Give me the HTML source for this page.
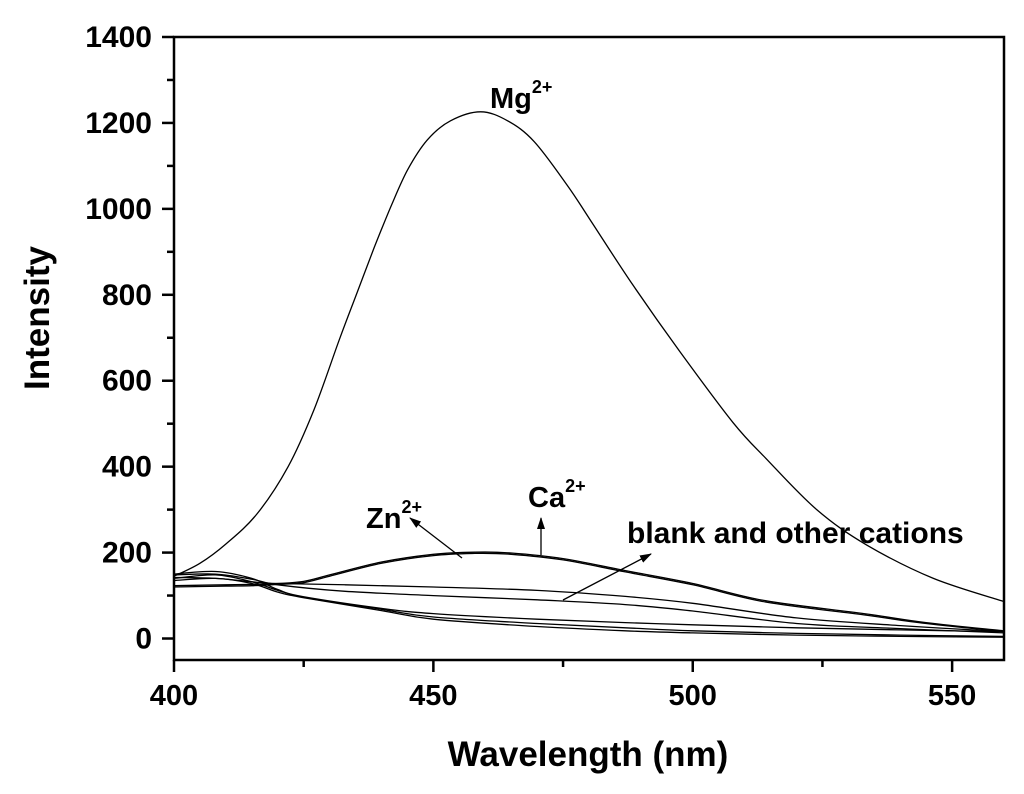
<!DOCTYPE html>
<html><head><meta charset="utf-8"><style>
body{margin:0;background:#fff}
svg{position:absolute;left:0;top:0}
svg text{font-family:"Liberation Sans",Arial,sans-serif;font-weight:bold;fill:#000}
</style></head><body>
<svg id="chart" width="1024" height="794" xmlns="http://www.w3.org/2000/svg">
<defs><marker id="ah2" markerWidth="12" markerHeight="8" refX="11" refY="4" orient="auto" markerUnits="userSpaceOnUse"><path d="M0,0 L12,4 L0,8 z" fill="#000"/></marker></defs>
<g id="plot"></g>
<text transform="translate(49,318) rotate(-90)" text-anchor="middle" font-size="35">Intensity</text>
<text x="588" y="766" text-anchor="middle" font-size="35">Wavelength (nm)</text>
<text x="490" y="108" font-size="29">Mg<tspan dy="-15" font-size="18">2+</tspan></text>
<text x="366" y="528" font-size="29">Zn<tspan dy="-15" font-size="18">2+</tspan></text>
<text x="528" y="507" font-size="29">Ca<tspan dy="-15" font-size="18">2+</tspan></text>
<text x="627" y="543" font-size="30">blank and other cations</text>
<line x1="462" y1="558" x2="410" y2="518" stroke="#000" stroke-width="1.3" marker-end="url(#ah2)"/>
<line x1="541" y1="555" x2="541" y2="518" stroke="#000" stroke-width="1.3" marker-end="url(#ah2)"/>
<line x1="563" y1="600" x2="651" y2="554" stroke="#000" stroke-width="1.3" marker-end="url(#ah2)"/>
</svg>
<script>
const xTicks=[400,450,500,550];
const yTicks=[0,200,400,600,800,1000,1200,1400];
const mgX=[400,405,410,416,422,427,432,435.3,438.6,441.8,445,448.8,453.3,459.1,464.3,469.4,475.8,480.2,488.5,497.5,507.8,514.2,523.9,533.5,546.4,560];
const mgY=[145,175,220,290,400,533,700,805,910,1005,1090,1160,1205,1226,1205,1157,1055,975,822,668,502,418,300,218,140,86];
const znX=[400,410,415,420,425,430,440,450,458,465,475,487,500,514,533,545,560];
const znY=[120,122,123,126,130,145,175,193,198,196,183,155,125,85,55,35,16];
const caY=[123,125,126,128,133,148,178,196,201,199,186,158,128,88,58,37,18];
const m1X=[400,408,415,420,433,450,470,487,500,520,540,560];
const m1Y=[142,140,132,128,125,120,112,98,82,48,30,16];
const m2Y=[148,150,138,125,110,100,90,79,64,35,23,13];
const lX=[400,408,415,420,425,440,450,470,487,500,520,540,560];
const l1Y=[140,148,132,112,97,70,58,45,37,32,25,20,16];
const l2Y=[135,140,128,108,95,65,45,28,18,13,8,5,3];
const l3Y=[150,156,140,114,96,68,50,35,25,18,12,8,5];

const X0=174,X1=1004,Y0=660,Y1=37,xmin=400,xmax=560,ymin=-50,ymax=1400;
const sx=v=>X0+(v-xmin)/(xmax-xmin)*(X1-X0);
const sy=v=>Y0-(v-ymin)/(ymax-ymin)*(Y0-Y1);
const NS="http://www.w3.org/2000/svg";
const g=document.getElementById('plot');
function mk(t,a){const e=document.createElementNS(NS,t);for(const k in a)e.setAttribute(k,a[k]);g.appendChild(e);return e;}
function line(xs,ys,name){
 const p=xs.map((x,i)=>[sx(x),sy(ys[i])]);
 let d='M'+p[0][0].toFixed(1)+','+p[0][1].toFixed(1);
 for(let i=0;i<p.length-1;i++){
  const a=p[Math.max(i-1,0)],b=p[i],c=p[i+1],e=p[Math.min(i+2,p.length-1)];
  const c1=[b[0]+(c[0]-a[0])/6,b[1]+(c[1]-a[1])/6],c2=[c[0]-(e[0]-b[0])/6,c[1]-(e[1]-b[1])/6];
  d+=' C'+c1.map(v=>v.toFixed(1)).join(',')+' '+c2.map(v=>v.toFixed(1)).join(',')+' '+c[0].toFixed(1)+','+c[1].toFixed(1);
 }
 const el=mk('path',{d:d,fill:'none',stroke:'#000','stroke-width':1.3,'stroke-linejoin':'round'});
 
 
}
line(mgX,mgY,'mg-curve');
line(znX,znY,'zn-curve');
line(znX,caY,'ca-curve');
line(m1X,m1Y,'cation-curve-1');
line(m1X,m2Y,'cation-curve-2');
line(lX,l1Y,'blank-curve-1');
line(lX,l2Y,'blank-curve-2');
line(lX,l3Y,'blank-curve-3');
const fr=mk('rect',{x:X0,y:Y1,width:X1-X0,height:Y0-Y1,fill:'none',stroke:'#000','stroke-width':2.5});


for(let v=400;v<=560;v+=25){const maj=xTicks.includes(v);
 const t=mk('line',{x1:sx(v),x2:sx(v),y1:Y0,y2:Y0+(maj?12:7),stroke:'#000','stroke-width':2.5});
 
 }
xTicks.forEach(v=>{const t=mk('text',{x:sx(v),y:705,'text-anchor':'middle','font-size':29});t.textContent=v;
 
 });
for(let v=0;v<=1400;v+=100){const maj=yTicks.includes(v);
 const t=mk('line',{x1:X0,x2:X0-(maj?12:7),y1:sy(v),y2:sy(v),stroke:'#000','stroke-width':2.5});
 
 }
yTicks.forEach(v=>{const t=mk('text',{x:152,y:sy(v)+10,'text-anchor':'end','font-size':30});t.textContent=v;
 
 });
</script>
</body></html>
